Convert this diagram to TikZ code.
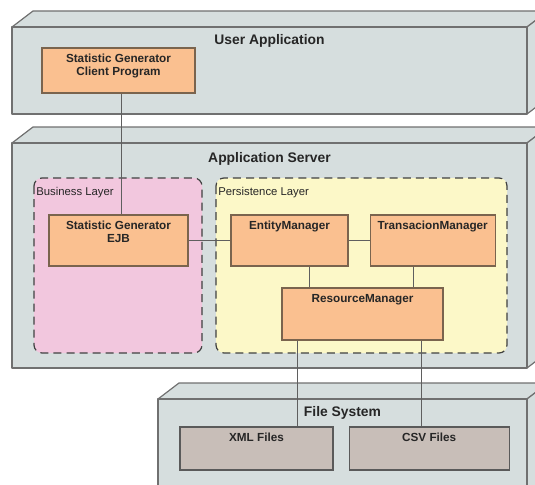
\documentclass[tikz,border=0pt]{standalone}
\usepackage{fontspec}
\setmainfont{Liberation Sans}
\usepackage{xcolor}
\usepackage{tikz}
\usetikzlibrary{positioning, backgrounds}
\definecolor{framefill}{RGB}{214,222,222}
\definecolor{frameline}{RGB}{112,112,112}
\definecolor{compfill}{RGB}{250,192,144}
\definecolor{compline}{RGB}{122,100,78}
\definecolor{filefill}{RGB}{200,190,184}
\definecolor{fileline}{RGB}{90,90,90}
\definecolor{busfill}{RGB}{242,199,222}
\definecolor{persfill}{RGB}{252,248,200}
\definecolor{wirecol}{RGB}{95,95,95}
\tikzstyle{frame} = [fill=framefill, draw=frameline, line width=0.9pt, line join=round]
\tikzstyle{layer} = [draw=black!75, line width=0.9pt, dash pattern=on 6pt off 3.8pt, rounded corners=6pt]
\tikzstyle{comp} = [rectangle, draw=compline, fill=compfill, line width=0.9pt, inner sep=0pt]
\tikzstyle{store} = [comp, draw=fileline, fill=filefill]
\tikzstyle{boxtext} = [anchor=north, align=center, inner sep=1pt, yshift=-3.8pt, text=black!85, font=\bfseries\fontsize{8.8}{9.8}\selectfont]
\tikzstyle{title} = [anchor=base, inner sep=0pt, text=black!85, font=\bfseries\fontsize{10.4}{12}\selectfont]
\tikzstyle{layertext} = [anchor=base west, inner sep=0pt, text=black!85, font=\fontsize{8.5}{10}\selectfont]
\tikzstyle{wire} = [draw=wirecol, line width=0.75pt]
% device block: front face from (#1,#2) to (#3,#4), with top and right faces
\newcommand{\devbox}[4]{%
  \filldraw[frame] (#1,#2) -- ++(21,16) -- (#3+21,#2+16) -- (#3,#2) -- cycle;
  \filldraw[frame] (#3,#2) -- ++(21,16) -- (#3+21,#4+16) -- (#3,#4) -- cycle;
  \filldraw[frame] (#1,#2) rectangle (#3,#4);}

\begin{document}
\begin{tikzpicture}[x=0.75pt, y=0.75pt]
  \useasboundingbox (0,0) rectangle (535,-485);
  \begin{scope}[on background layer]
    % Devices
    \devbox{12}{-27}{527}{-114}
    \devbox{12}{-143}{527}{-368}
    \devbox{158}{-399}{527}{-530}

    % Layers of the application server
    \filldraw[layer, fill=busfill] (34,-178) rectangle (202,-353);
    \node (buslabel) [layertext] at (36,-195) {Business Layer};
    \filldraw[layer, fill=persfill] (216,-178) rectangle (507,-353);
    \node (perslabel) [layertext] at (218,-195) {Persistence Layer};
  \end{scope}

  % Titles
  \node (usertitle) [title] at (269.5,-45) {User Application};
  \node (servertitle) [title] at (269.5,-162) {Application Server};
  \node (fstitle) [title] at (342.5,-416) {File System};

  % Client
  \node (client) [comp, minimum width=114.75pt, minimum height=33.75pt,
    label={[boxtext]north:{Statistic Generator\\Client Program}}] at (118.5,-70.5) {};

  % Business layer
  \node (ejb) [comp, minimum width=104.25pt, minimum height=38.25pt,
    label={[boxtext]north:{Statistic Generator\\EJB}}] at (118.5,-240.5) {};

  % Persistence layer
  \node (entity) [comp, minimum width=87.75pt, minimum height=38.25pt,
    label={[boxtext]north:EntityManager}] at (289.5,-240.5) {};
  \node (trans) [comp, minimum width=93.75pt, minimum height=38.25pt, right=15.75pt of entity,
    label={[boxtext]north:TransacionManager}] {};
  \node (rm) [comp, minimum width=120.75pt, minimum height=39pt,
    label={[boxtext]north:ResourceManager}] at (362.5,-314) {};

  % Files
  \node (xml) [store, minimum width=114.75pt, minimum height=32.25pt,
    label={[boxtext]north:XML Files}] at (256.5,-448.5) {};
  \node (csv) [store, minimum width=120pt, minimum height=32.25pt, right=11.25pt of xml,
    label={[boxtext]north:CSV Files}] {};

  % Connectors
  \coordinate (cl) at ([xshift=2.6pt]client.south);
  \draw[wire] (cl) -- (cl |- ejb.north);
  \draw[wire] (ejb) -- (entity);
  \draw[wire] (entity) -- (trans);
  \coordinate (em) at ([xshift=15pt]entity.south);
  \draw[wire] (em) -- (em |- rm.north);
  \coordinate (tm) at ([xshift=-14.6pt]trans.south);
  \draw[wire] (tm) -- (tm |- rm.north);
  \coordinate (rx) at ([xshift=-49.1pt]rm.south);
  \draw[wire] (rx) -- (rx |- xml.north);
  \coordinate (rc) at ([xshift=44.6pt]rm.south);
  \draw[wire] (rc) -- (rc |- csv.north);
\end{tikzpicture}
\end{document}
